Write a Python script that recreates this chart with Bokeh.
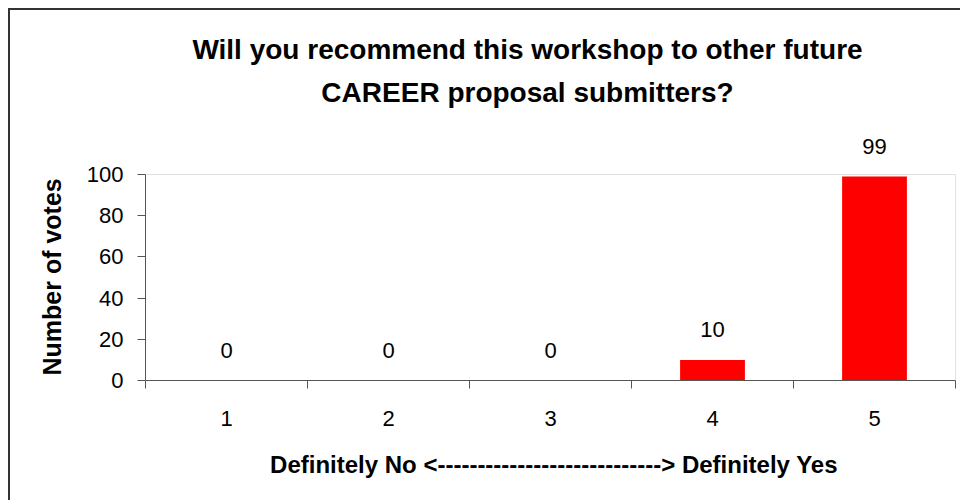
from bokeh.plotting import figure
from bokeh.models import (FixedTicker, LabelSet, Label, Range1d, ColumnDataSource,
                          BoxAnnotation)
from bokeh.core.properties import value
from bokeh.embed import file_html
from bokeh.resources import INLINE

# ---- data ----
categories = [1, 2, 3, 4, 5]
votes = [0, 0, 0, 10, 99]
y_ticks = [0, 20, 40, 60, 80, 100]
cat_bounds = [0.5, 1.5, 2.5, 3.5, 4.5, 5.5]
title_lines = ["Will you recommend this workshop to other future",
               "CAREER proposal submitters?"]
x_title = "Definitely No <----------------------------> Definitely Yes"
y_title = "Number of votes"

FONT = "Liberation Sans"

# layout: plot area 810 x 206 px for the value range; frame extended upward so
# the title and the top data label are drawn inside the (clipping) frame
PX_X = 810.0 / (cat_bounds[-1] - cat_bounds[0])   # px per category
PX_Y = 206.0 / y_ticks[-1]                         # px per vote
FRAME_TOP_EXTRA = 154                               # px above the value range
FRAME_RIGHT_EXTRA = 7

src = ColumnDataSource(data=dict(x=categories, top=votes, lbl=[str(v) for v in votes]))

p = figure(width=952, height=492, output_backend="svg", toolbar_location=None,
           x_range=Range1d(cat_bounds[0], cat_bounds[-1] + FRAME_RIGHT_EXTRA / PX_X),
           y_range=Range1d(0, y_ticks[-1] + FRAME_TOP_EXTRA / PX_Y),
           min_border_left=135, min_border_top=10, min_border_right=0,
           min_border_bottom=122)
p.styles = {"margin-left": "8px", "margin-top": "8px",
            "border-top": "2px solid #333333", "border-left": "2px solid #333333"}
p.background_fill_color = "white"
p.border_fill_color = "white"
p.outline_line_color = None
p.xgrid.visible = False
p.ygrid.visible = False

# plot-area border (light grey)
p.add_layout(BoxAnnotation(left=cat_bounds[0], right=cat_bounds[-1],
                           bottom=y_ticks[0], top=y_ticks[-1],
                           fill_alpha=0, line_color="#a0a0a0", line_width=1,
                           level="underlay"))

p.vbar(x="x", top="top", width=0.4, fill_color="#ff0000", line_color=None, source=src)
p.add_layout(LabelSet(x="x", y="top", text="lbl", source=src,
                      text_align="center", text_baseline="alphabetic", y_offset=23,
                      text_font=value(FONT), text_font_size="22px", text_color="black"))

# axes
xa = p.xaxis[0]
xa.bounds = (cat_bounds[0], cat_bounds[-1])
xa.ticker = FixedTicker(ticks=categories, minor_ticks=cat_bounds)
xa.major_tick_out = 0
xa.major_tick_in = 0
xa.minor_tick_out = 8
xa.minor_tick_in = 0
xa.minor_tick_line_color = "#555555"
xa.axis_line_color = "#555555"
xa.major_label_standoff = 22
xa.major_label_text_font = FONT
xa.major_label_text_font_size = "22px"
xa.major_label_text_color = "black"
xa.axis_label = x_title
xa.axis_label_text_font = FONT
xa.axis_label_text_font_style = "bold"
xa.axis_label_text_font_size = "24px"
xa.axis_label_text_color = "black"
xa.axis_label_standoff = 22

ya = p.yaxis[0]
ya.bounds = (y_ticks[0], y_ticks[-1])
ya.ticker = FixedTicker(ticks=y_ticks)
ya.major_tick_out = 8
ya.major_tick_in = 0
ya.minor_tick_out = 0
ya.minor_tick_in = 0
ya.major_tick_line_color = "#555555"
ya.axis_line_color = "#555555"
ya.major_label_standoff = 14
ya.major_label_text_font = FONT
ya.major_label_text_font_size = "22px"
ya.major_label_text_color = "black"
# the axis label is centred on the whole (extended) frame; trailing no-break
# spaces move the visible words down to the middle of the value range
ya.axis_label = y_title + "\u00a0" * 22
ya.axis_label_text_font = FONT
ya.axis_label_text_font_style = "bold"
ya.axis_label_text_font_size = "25px"
ya.axis_label_text_color = "black"
ya.axis_label_standoff = 18

# two-line title: centre 382 px right of the plot area's left edge,
# baselines 331 px and 288 px above the value axis
title_cx = cat_bounds[0] + 382 / PX_X
for line, base_px in zip(title_lines, [331, 288]):
    p.add_layout(Label(x=title_cx, y=base_px / PX_Y, text=line,
                       text_align="center", text_baseline="alphabetic",
                       text_font=FONT, text_font_style="bold",
                       text_font_size="28px", text_color="black"))

open("out.html", "w").write(file_html(p, INLINE))
